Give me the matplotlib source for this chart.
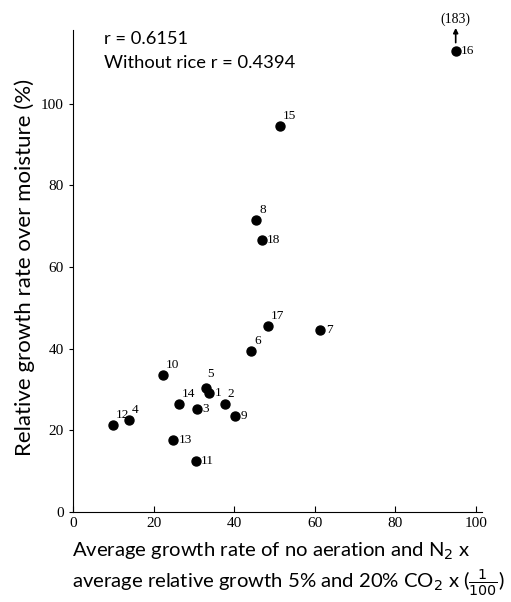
import matplotlib.pyplot as plt

# point ids with x (avg growth product / 100) and y (relative growth rate %)
ids = ['1', '2', '3', '4', '5', '6', '7', '8', '9', '10',
       '11', '12', '13', '14', '15', '16', '17', '18']
x = [33.7, 37.6, 30.7, 13.9, 32.9, 44.3, 61.4, 45.5, 40.1, 22.3,
     30.4, 9.9, 24.8, 26.2, 51.5, 95.0, 48.5, 46.8]
y = [29.2, 26.5, 25.2, 22.5, 30.4, 39.5, 44.6, 71.6, 23.5, 33.6,
     12.5, 21.3, 17.6, 26.5, 94.6, 113.0, 45.6, 66.7]

xticks = [0, 20, 40, 60, 80, 100]
yticks = [0, 20, 40, 60, 80, 100]

serif = 'Liberation Serif'
sans = 'Lato'

fig = plt.figure(figsize=(5.11, 6.02), dpi=100)
ax = fig.add_axes([0.143, 0.1495, 0.80, 0.80])

ax.scatter(x, y, s=42, color='black', zorder=3)

for i, (px, py) in enumerate(zip(x, y)):
    lab = ids[i]
    if lab in ('16', '7', '1', '3', '9', '11', '13', '18'):
        ax.annotate(lab, (px, py), xytext=(4, 0), textcoords='offset points',
                    fontsize=9.5, family=serif, va='center', ha='left')
    elif lab == '5':
        ax.annotate(lab, (px, py), xytext=(1, 6), textcoords='offset points',
                    fontsize=9.5, family=serif, va='bottom', ha='left')
    else:
        ax.annotate(lab, (px, py), xytext=(2, 3), textcoords='offset points',
                    fontsize=9.5, family=serif, va='bottom', ha='left')

# off-scale marker for point 16
ax.annotate('', xy=(95.0, 118.6), xytext=(95.0, 115.0),
            arrowprops=dict(arrowstyle='-|>', color='black', lw=1.2,
                            mutation_scale=7, shrinkA=0, shrinkB=0),
            annotation_clip=False)
ax.text(95.0, 119.0, '(183)', fontsize=10, family=serif, ha='center', va='bottom',
        clip_on=False)

ax.set_xlim(0, 101.5)
ax.set_ylim(0, 118)
ax.set_xticks(xticks)
ax.set_yticks(yticks)
ax.tick_params(axis='x', direction='in', length=4, labelsize=11)
ax.tick_params(axis='y', direction='out', length=3, labelsize=11)
for t in ax.get_xticklabels() + ax.get_yticklabels():
    t.set_family(serif)
ax.spines['top'].set_visible(False)
ax.spines['right'].set_visible(False)

ax.text(0.075, 0.983, 'r = 0.6151', transform=ax.transAxes, fontsize=13.2,
        family=sans, va='center')
ax.text(0.075, 0.932, 'Without rice r = 0.4394', transform=ax.transAxes,
        fontsize=13.2, family=sans, va='center')

ax.set_ylabel('Relative growth rate over moisture (%)', fontsize=16,
              family=sans)
ax.yaxis.set_label_coords(-0.093, 0.508)
fig.text(0.141, 0.054,
         'Average growth rate of no aeration and N$_2$ x\n'
         'average relative growth 5% and 20% CO$_2$ x ($\\frac{1}{100}$)',
         fontsize=14.6, family=sans, ha='left', va='center',
         multialignment='left', linespacing=1.3)

fig.savefig('out.png', dpi=100)
